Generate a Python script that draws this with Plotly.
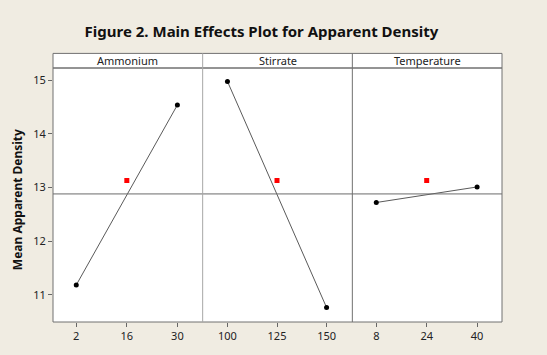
import plotly.graph_objects as go
from plotly.subplots import make_subplots

factors = ["Ammonium", "Stirrate", "Temperature"]
levels = [[2, 30], [100, 150], [8, 40]]
means = [[11.18, 14.54], [14.98, 10.76], [12.72, 13.01]]
center_x = [16, 125, 24]
center_y = [13.13, 13.13, 13.13]
tick_vals = [[2, 16, 30], [100, 125, 150], [8, 24, 40]]
x_ranges = [[-4.44, 37.0], [87.5, 163.0], [0.4, 47.9]]
grand_mean = 12.88

FONT = "Noto Sans"

fig = make_subplots(rows=1, cols=3, shared_yaxes=True, horizontal_spacing=0)

for i in range(3):
    fig.add_trace(go.Scatter(x=levels[i], y=means[i], mode="lines+markers",
                             line=dict(color="#5a5a5a", width=1),
                             marker=dict(color="black", size=5),
                             showlegend=False, hoverinfo="skip"), row=1, col=i + 1)
    fig.add_trace(go.Scatter(x=[center_x[i]], y=[center_y[i]], mode="markers",
                             marker=dict(color="#ff0000", size=5, symbol="square"),
                             showlegend=False, hoverinfo="skip"), row=1, col=i + 1)
    fig.update_xaxes(range=x_ranges[i], tickvals=tick_vals[i],
                     ticks="outside", ticklen=4, tickcolor="#666",
                     showgrid=False, zeroline=False, showline=False,
                     tickfont=dict(family=FONT, size=11, color="#222"),
                     row=1, col=i + 1)

fig.update_yaxes(range=[10.49, 15.23], tickvals=[11, 12, 13, 14, 15],
                 ticks="outside", ticklen=4, tickcolor="#666",
                 showgrid=False, zeroline=False, showline=False,
                 tickfont=dict(family=FONT, size=11, color="#222"),
                 row=1, col=1)
fig.update_yaxes(range=[10.49, 15.23], showgrid=False, zeroline=False)

# grand mean reference line across all panels
fig.add_shape(type="line", xref="paper", yref="y", x0=0, x1=1, y0=grand_mean, y1=grand_mean,
              line=dict(color="#6a6a6a", width=1), layer="above")

# frame, dividers and strips
strip_h = 15 / (355 - 68 - 26)
fig.add_shape(type="rect", xref="paper", yref="paper", x0=0, x1=1, y0=1, y1=1 + strip_h,
              line=dict(color="#707070", width=1), fillcolor="white", layer="above")
fig.add_shape(type="rect", xref="paper", yref="paper", x0=0, x1=1, y0=0, y1=1,
              line=dict(color="#707070", width=1), fillcolor="rgba(0,0,0,0)", layer="above")
for k, c in [(1 / 3, "#a8a8a8"), (2 / 3, "#707070")]:
    fig.add_shape(type="line", xref="paper", yref="paper", x0=k, x1=k, y0=0, y1=1 + strip_h,
                  line=dict(color=c, width=1), layer="above")

for i, f in enumerate(factors):
    fig.add_annotation(text=f, xref="paper", yref="paper", x=(i + 0.5) / 3,
                       y=1 + strip_h / 2, showarrow=False, xanchor="center", yanchor="middle",
                       font=dict(family=FONT, size=11, color="#222"))
fig.add_annotation(text="<b>Mean Apparent Density</b>", xref="paper", yref="paper",
                   x=-0.08, y=0.48, textangle=-90, showarrow=False,
                   xanchor="center", yanchor="middle",
                   font=dict(family=FONT, size=12, color="#111"))

fig.update_layout(
    width=547, height=355,
    margin=dict(l=53, r=45, t=68, b=26),
    paper_bgcolor="#f0ece2", plot_bgcolor="white",
    title=dict(text="<b>Figure 2. Main Effects Plot for Apparent Density</b>",
               x=0.478, xanchor="center", y=0.91, yanchor="middle",
               font=dict(family=FONT, size=15, color="#111")),
)

fig.write_html("out.html", config={"displayModeBar": False},
               post_script="document.body.style.margin='0';")
